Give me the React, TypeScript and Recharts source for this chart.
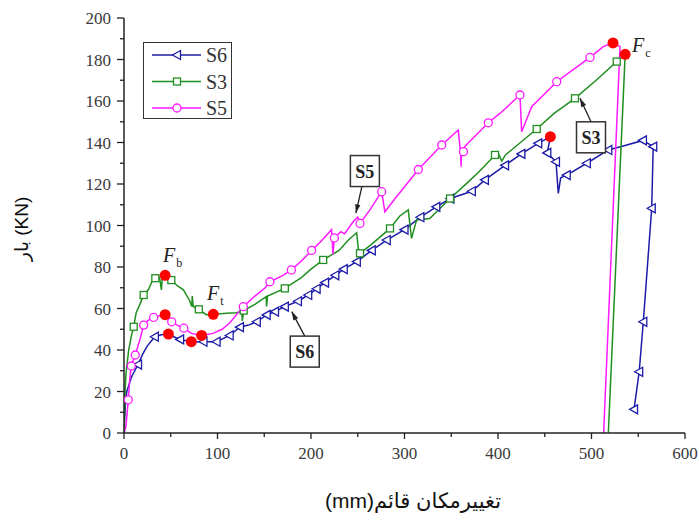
import React from 'react';
import { ComposedChart, Line, Scatter, XAxis, YAxis, Legend, ReferenceDot } from 'recharts';

// load - displacement curves, [mm, kN]
const s6Curve = [
  [0, 0], [1.5, 14], [3, 20], [8, 27], [15, 33], [20, 38], [25, 42], [33, 46.4], [40, 47.3], [47, 47.7],
  [55, 46], [60, 45.1], [72, 44], [85, 44], [99, 44], [113, 47], [124, 51], [133, 52], [142, 53.6],
  [152.6, 56.9], [161.5, 58.5], [172, 60.9], [186, 63.5], [197, 66.5], [206, 69.5], [215, 72.5],
  [226, 76], [235, 79], [249, 82.6], [265, 88], [281, 93], [300, 98], [317, 104], [334, 109], [349, 113],
  [372, 116.5], [386, 122], [407.5, 129], [425, 134.5], [443, 139.6], [456, 142.8], [452.7, 135],
  [462, 130.7], [464.5, 115.5], [467, 123], [473.5, 124.3], [495, 130], [518, 136.4], [534, 138.3],
  [555, 141], [566, 138], [564.4, 108.3], [555.4, 53.6], [551, 29.5], [545.5, 11.4],
];
const s3Curve = [
  [0, 0], [1, 18], [2, 28], [5, 40], [8, 47], [10.4, 51.2], [13, 58], [17, 62], [21, 66.5], [26, 69],
  [30, 73], [33.5, 74.6], [38, 75], [40, 69], [41, 75], [44, 76], [50.6, 73.7], [57, 71], [63.5, 69],
  [70, 64], [72.5, 61], [73, 66], [74, 61], [80, 59.6], [88, 57], [96, 57.2], [110, 57.7], [120, 58],
  [126, 58.5], [126.5, 54], [128, 59], [140, 62], [152, 65.7], [152.5, 61], [153.5, 66], [172, 69.7],
  [190, 75], [200, 79], [213, 83.4], [230, 88], [240, 93], [248.8, 96.5], [250.6, 89], [252.4, 86.6],
  [265, 91], [284.5, 98.6], [295, 104.6], [304, 107.5], [307.5, 93.8], [313, 102.7], [327, 103.4],
  [348.7, 113], [366.5, 120.3], [380, 126], [396.8, 134], [400, 135], [404, 131], [408, 134],
  [441.4, 146.5], [460, 154], [482.3, 161.3], [505, 170], [527, 179], [531, 181.5], [536, 182.5], [518, 0],
];
const s5Curve = [
  [0, 0], [2, 3], [4.6, 16], [6, 25], [7.8, 32.3], [12, 37.6], [17, 45], [21, 52], [25, 54], [31.7, 55.7],
  [38, 56.5], [44, 57], [51, 53.6], [57, 52], [64, 50.5], [72, 48], [83, 47], [95, 48], [105, 50],
  [113, 53], [127.6, 60.9], [140, 66], [151, 70], [156, 72.9], [170, 76], [179, 78.6], [190, 83],
  [200.7, 88], [210, 92], [222, 98], [223.5, 86], [225, 94], [232, 97], [236, 96], [245, 101.8],
  [250, 104], [252.4, 101], [263, 107.5], [275.6, 116.3], [279, 106.6], [290, 113], [314.8, 127],
  [339.8, 138.8], [357.5, 146], [360, 135], [360.5, 128.3], [361, 136], [366.5, 139], [389.6, 149.5],
  [402, 154], [423.5, 162.9], [425.3, 145.2], [436, 157.3], [462.8, 169.3], [480, 175], [498.4, 181],
  [512.6, 186.2], [523, 188], [530.5, 186.2], [513, 0],
];

// symbol positions along each curve
const s6Marks = [
  [15, 33], [33, 46.4], [60, 45.1], [85, 44], [99, 44], [113, 47], [124, 51], [142, 53.6], [152.6, 56.9],
  [161.5, 58.5], [172, 60.9], [186, 63.5], [197, 66.5], [206, 69.5], [215, 72.5], [226, 76], [235, 79],
  [249, 82.6], [265, 88], [281, 93], [300, 98], [317, 104], [334, 109], [349, 113], [372, 116.5],
  [386, 122], [407.5, 129], [425, 134.5], [443, 139.6], [452.7, 135], [462, 130.7], [473.5, 124.3],
  [495, 130], [518, 136.4], [555, 141], [566, 138], [564.4, 108.3], [555.4, 53.6], [551, 29.5], [545.5, 11.4],
];
const s3Marks = [
  [10.4, 51.2], [21, 66.5], [33.5, 74.6], [50.6, 73.7], [80, 59.6], [128, 59], [172, 69.7], [213, 83.4],
  [252.4, 86.6], [284.5, 98.6], [348.7, 113], [396.8, 134], [441.4, 146.5], [482.3, 161.3], [527, 179],
];
const s5Marks = [
  [4.6, 16], [7.8, 32.3], [12, 37.6], [21, 52], [31.7, 55.7], [51, 53.6], [64, 50.5], [127.6, 60.9],
  [156, 72.9], [179, 78.6], [200.7, 88], [225, 94], [252.4, 101], [275.6, 116.3], [314.8, 127],
  [339.8, 138.8], [363, 135.6], [389.6, 149.5], [423.5, 162.9], [462.8, 169.3], [498.4, 181],
];

// characteristic points (red)
const keyPoints = [
  [44, 76], [44, 57], [47.5, 47.7], [72, 44], [83, 47], [95.5, 57.2], [456, 142.8], [523, 188], [536, 182.5],
];

const xTicks = [0, 50, 100, 150, 200, 250, 300, 350, 400, 450, 500, 550, 600];
const yTicks = [0, 10, 20, 30, 40, 50, 60, 70, 80, 90, 100, 110, 120, 130, 140, 150, 160, 170, 180, 190, 200];

const BLUE = '#1c1ca8';
const GREEN = '#1f8f1f';
const MAGENTA = '#ff1aff';
const SERIF = "'Liberation Serif', 'Times New Roman', serif";
const SANS = "'Liberation Sans', 'DejaVu Sans', Arial, sans-serif";

const pts = (a: number[][]) => a.map(([x, y]) => ({ x, y }));

const Tri = ({ cx, cy, c }: any) => (
  <polygon points={`${cx - 4.5},${cy} ${cx + 3.5},${cy - 4.5} ${cx + 3.5},${cy + 4.5}`} fill="#fff" stroke={c} strokeWidth={1.3} />
);
const Sq = ({ cx, cy, c }: any) => (
  <rect x={cx - 3.5} y={cy - 3.5} width={7} height={7} fill="#fff" stroke={c} strokeWidth={1.3} />
);
const Circ = ({ cx, cy, c }: any) => <circle cx={cx} cy={cy} r={4} fill="#fff" stroke={c} strokeWidth={1.3} />;

const series = [
  { name: 'S6', color: BLUE, curve: s6Curve, marks: s6Marks, Shape: Tri },
  { name: 'S3', color: GREEN, curve: s3Curve, marks: s3Marks, Shape: Sq },
  { name: 'S5', color: MAGENTA, curve: s5Curve, marks: s5Marks, Shape: Circ },
];

// boxed labels with an arrow pointing at the curve; dx/dy = box centre offset in px
const callouts = [
  { label: 'S5', x: 248, y: 106, dx: 9, dy: -42 },
  { label: 'S3', x: 487.7, y: 161.3, dx: 11, dy: 39 },
  { label: 'S6', x: 179.4, y: 58.5, dx: 13, dy: 40 },
];
const forceLabels = [
  { sub: 'b', x: 41.7, y: 82.4 },
  { sub: 't', x: 88.8, y: 64.1 },
  { sub: 'c', x: 543.3, y: 183.6 },
];

const YTick = (props: any) => {
  const { x, y, payload } = props;
  const major = payload.value % 20 === 0;
  return (
    <g>
      <line x1={x} x2={x - (major ? 7 : 4)} y1={y} y2={y} stroke="#222" strokeWidth={1.3} />
      {major && (
        <text x={x - 13} y={y + 6} textAnchor="end" fontSize={17} fill="#3a3a3a" style={{ fontFamily: SERIF }}>
          {payload.value}
        </text>
      )}
    </g>
  );
};

const XTick = (props: any) => {
  const { x, y, payload } = props;
  const major = payload.value % 100 === 0;
  return (
    <g>
      <line x1={x} x2={x} y1={y} y2={y + (major ? 6 : 4)} stroke="#222" strokeWidth={1.3} />
      {major && (
        <text x={x} y={y + 26} textAnchor="middle" fontSize={17} fill="#3a3a3a" style={{ fontFamily: SERIF }}>
          {payload.value}
        </text>
      )}
    </g>
  );
};

const LegendBox = () => (
  <div style={{ width: 89, height: 77, border: '1.5px solid #333', boxSizing: 'border-box', background: '#fff' }}>
    <svg width={86} height={74} style={{ overflow: 'visible', display: 'block' }}>
      {series.map((s, i) => {
        const cy = 12 + i * 26.5;
        return (
          <g key={s.name}>
            <line x1={8} x2={57} y1={cy} y2={cy} stroke={s.color} strokeWidth={1.5} />
            <s.Shape cx={33} cy={cy} c={s.color} />
            <text x={62} y={cy + 7} fontSize={20} fill="#333" style={{ fontFamily: SERIF }}>{s.name}</text>
          </g>
        );
      })}
    </svg>
  </div>
);

const Callout = ({ cx, cy, label, dx, dy }: any) => {
  const bx = cx + dx;
  const by = cy + dy;
  const w = 29;
  const h = 31;
  // arrow starts on the box edge facing the tip
  const sy = dy < 0 ? by + h / 2 : by - h / 2;
  const sx = dy < 0 ? bx - 3 : bx;
  const ang = Math.atan2(cy - sy, cx - sx);
  const a1 = ang + Math.PI - 0.3;
  const a2 = ang + Math.PI + 0.3;
  return (
    <g>
      <line x1={sx} y1={sy} x2={cx} y2={cy} stroke="#222" strokeWidth={1.3} />
      <polygon
        points={`${cx},${cy} ${cx + 9 * Math.cos(a1)},${cy + 9 * Math.sin(a1)} ${cx + 9 * Math.cos(a2)},${cy + 9 * Math.sin(a2)}`}
        fill="#222"
      />
      <rect x={bx - w / 2} y={by - h / 2} width={w} height={h} fill="#fff" stroke="#333" strokeWidth={1.5} />
      <text x={bx} y={by + 6.5} textAnchor="middle" fontSize={18} fontWeight="bold" fill="#222" style={{ fontFamily: SERIF }}>
        {label}
      </text>
    </g>
  );
};

const ForceLabel = ({ cx, cy, sub }: any) => (
  <text x={cx} y={cy} fill="#222" style={{ fontFamily: SERIF }}>
    <tspan fontSize={20} fontStyle="italic">F</tspan>
    <tspan fontSize={12} dy={5} dx={1}>{sub}</tspan>
  </text>
);

export default function App() {
  return (
    <div style={{ position: 'absolute', left: 0, top: 0, background: '#fff' }}>
      <ComposedChart width={699} height={521} margin={{ top: 18, right: 14, bottom: 58, left: 0 }}>
        <XAxis
          type="number"
          dataKey="x"
          domain={[0, 600]}
          ticks={xTicks}
          interval={0}
          height={30}
          tickSize={0}
          tickMargin={0}
          tick={<XTick />}
          stroke="#222"
          strokeWidth={1.5}
          allowDataOverflow
          label={() => (
            <text x={413} y={508} textAnchor="middle" fontSize={21} fill="#111" style={{ fontFamily: SANS, direction: 'rtl' }}>
              تغییرمکان قائم(mm)
            </text>
          )}
        />
        <YAxis
          type="number"
          dataKey="y"
          domain={[0, 200]}
          ticks={yTicks}
          interval={0}
          width={124}
          tickSize={0}
          tickMargin={0}
          tick={<YTick />}
          stroke="#222"
          strokeWidth={1.5}
          allowDataOverflow
          label={() => (
            <text x={28} y={229} textAnchor="middle" fontSize={19} fill="#111" style={{ fontFamily: SANS }} transform="rotate(-90 28 229)">
              بار (KN)
            </text>
          )}
        />
        <Legend
          layout="horizontal"
          verticalAlign="middle"
          align="center"
          content={() => <LegendBox />}
          wrapperStyle={{ left: 143, top: 42, width: 89, height: 77 }}
        />
        {series.map((s) => (
          <Line
            key={`l-${s.name}`}
            data={pts(s.curve)}
            dataKey="y"
            type="linear"
            stroke={s.color}
            strokeWidth={1.5}
            dot={false}
            activeDot={false}
            isAnimationActive={false}
            legendType="none"
          />
        ))}
        {series.map((s) => (
          <Scatter
            key={`m-${s.name}`}
            data={pts(s.marks)}
            dataKey="y"
            isAnimationActive={false}
            legendType="none"
            shape={(p: any) => <s.Shape cx={p.cx} cy={p.cy} c={s.color} />}
          />
        ))}
        <Scatter
          data={pts(keyPoints)}
          dataKey="y"
          isAnimationActive={false}
          legendType="none"
          shape={(p: any) => <circle cx={p.cx} cy={p.cy} r={5.5} fill="#ff0000" />}
        />
        {callouts.map((c) => (
          <ReferenceDot
            key={c.label}
            x={c.x}
            y={c.y}
            r={0}
            ifOverflow="visible"
            shape={(p: any) => <Callout cx={p.cx} cy={p.cy} label={c.label} dx={c.dx} dy={c.dy} />}
          />
        ))}
        {forceLabels.map((f) => (
          <ReferenceDot
            key={f.sub}
            x={f.x}
            y={f.y}
            r={0}
            ifOverflow="visible"
            shape={(p: any) => <ForceLabel cx={p.cx} cy={p.cy} sub={f.sub} />}
          />
        ))}
      </ComposedChart>
    </div>
  );
}
